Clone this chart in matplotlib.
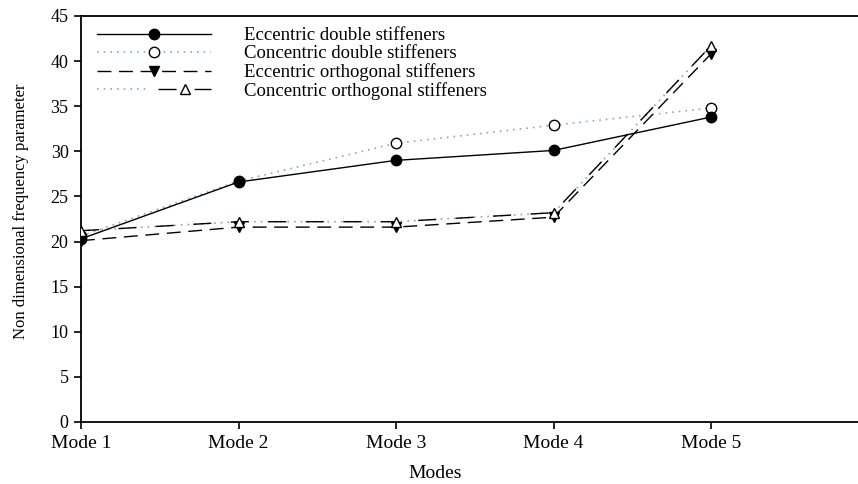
import matplotlib
matplotlib.use("Agg")
import matplotlib.pyplot as plt
from matplotlib.lines import Line2D
from matplotlib.legend_handler import HandlerTuple

modes = ["Mode 1", "Mode 2", "Mode 3", "Mode 4", "Mode 5"]
ecc_double = [20.3, 26.6, 29.0, 30.1, 33.8]
con_double = [20.6, 26.7, 30.9, 32.9, 34.8]
ecc_orth = [20.1, 21.6, 21.6, 22.7, 40.8]
con_orth = [21.2, 22.2, 22.2, 23.2, 41.7]
labels = ["Eccentric double stiffeners", "Concentric double stiffeners",
          "Eccentric orthogonal stiffeners", "Concentric orthogonal stiffeners"]

plt.rcParams['font.family'] = ['Liberation Serif', 'DejaVu Serif']
plt.rcParams['font.size'] = 14

fig = plt.figure(figsize=(8.58, 4.84), dpi=100)
W, H = 858, 484
left, bottom, top = 81, 422, 16
ax = fig.add_axes([left / W, (H - bottom) / H, 1.01 - left / W, (bottom - top) / H])
axw = W * 1.01 - left
axh = bottom - top

x = list(range(len(modes)))
blue = '#8aa6c8'
ms = 7.5

h1, = ax.plot(x, ecc_double, color='black', lw=1.0, marker='o', ms=ms,
              mfc='black', mec='black', zorder=4)
h2, = ax.plot(x, con_double, color=blue, lw=1.2, ls=(0, (1, 3)), marker='o', ms=ms,
              mfc='white', mec='black', mew=1.0, zorder=3)
h3, = ax.plot(x, ecc_orth, color='black', lw=1.0, ls=(0, (10, 5.5)), marker='v', ms=ms,
              mfc='black', mec='black', zorder=4)
h4a, = ax.plot(x, con_orth, color=blue, lw=1.2, ls=(0, (1, 3)), zorder=3)
h4b, = ax.plot(x, con_orth, color='black', lw=1.0, ls=(0, (13, 14)), marker='^', ms=ms,
               mfc='white', mec='black', mew=1.0, zorder=5)

# legend proxies for the dash-dot-dot style of the last series
p4a = Line2D([], [], color=blue, lw=1.2, ls=(0, (1, 3)))
p4b = Line2D([], [], color='black', lw=1.0, ls=(0, (13, 13)), marker='^', ms=ms,
             mfc='white', mec='black', mew=1.0)

ax.set_xlim(0, axw / 157.5)
ax.set_ylim(0, 45)
ax.set_yticks(range(0, 46, 5))
ax.set_xticks(x)
ax.set_xticklabels(modes)
ax.spines['right'].set_visible(False)
for s in ['left', 'bottom', 'top']:
    ax.spines[s].set_linewidth(1.3)
ax.tick_params(direction='out', length=5, width=1.2)
ax.tick_params(axis='y', pad=4, labelsize=13)
ax.tick_params(axis='x', pad=4, labelsize=14)

ax.set_xlabel("Modes", fontsize=14)
ax.xaxis.set_label_coords((435 - left) / axw, -(465 - bottom) / axh)
ax.set_ylabel("Non dimensional frequency parameter", fontsize=12)
ax.yaxis.set_label_coords(-(81 - 29) / axw, 0.52)

leg = ax.legend([h1, h2, h3, (p4a, p4b)], labels,
                handler_map={tuple: HandlerTuple(ndivide=None)},
                loc='upper left', bbox_to_anchor=(0.0, 1.012), frameon=False,
                handlelength=6.1, handletextpad=1.75, labelspacing=0.05,
                borderaxespad=0.45, fontsize=13.5)

fig.savefig("out.png", dpi=100)
